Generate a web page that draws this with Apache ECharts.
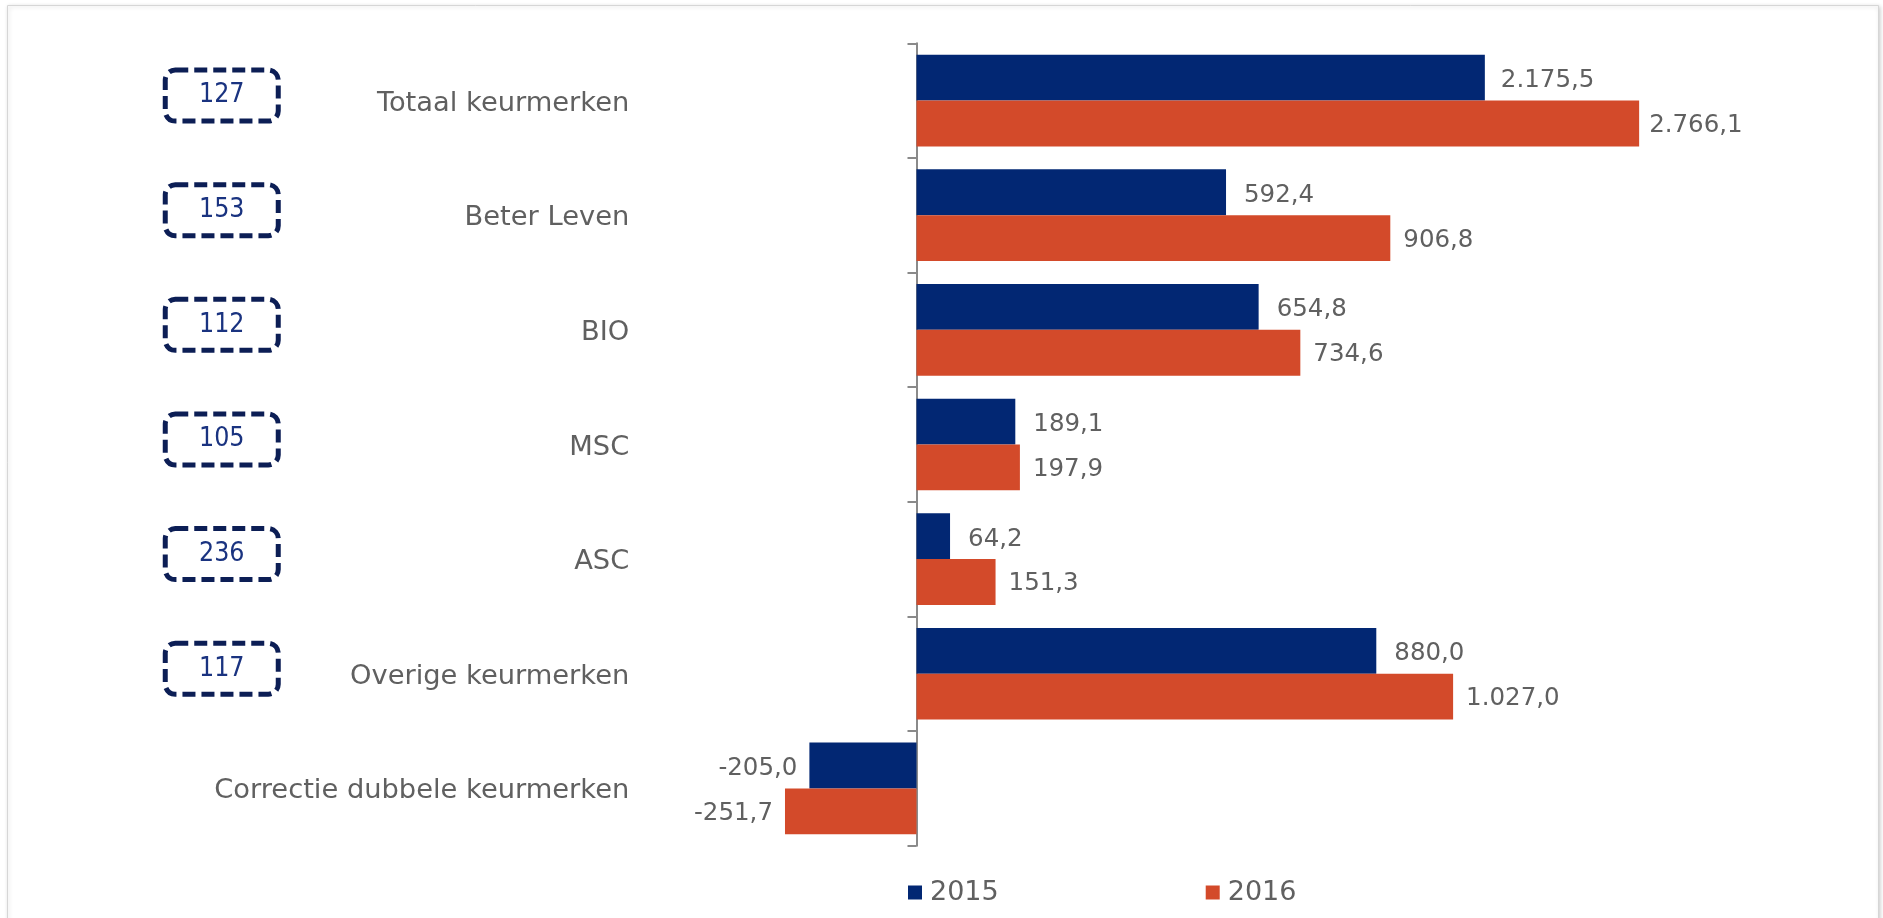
<!DOCTYPE html>
<html>
<head>
<meta charset="utf-8">
<script src="https://cdn.jsdelivr.net/npm/echarts@6/dist/echarts.min.js"></script>
<style>
  html, body { margin: 0; padding: 0; background: #ffffff; }
  #chart { width: 1883px; height: 918px; }
</style>
</head>
<body>
<div id="chart"></div>
<script>
// ---- data ----
const categories = ['Totaal keurmerken', 'Beter Leven', 'BIO', 'MSC', 'ASC', 'Overige keurmerken', 'Correctie dubbele keurmerken'];
const values2015 = [2175.5, 592.4, 654.8, 189.1, 64.2, 880.0, -205.0];
const values2016 = [2766.1, 906.8, 734.6, 197.9, 151.3, 1027.0, -251.7];
const boxValues = [127, 153, 112, 105, 236, 117, null];
const seriesNames = ['2015', '2016'];

// ---- style ----
const FONT = 'DejaVu Sans';
const BOX_FONT = "'DejaVu Sans Condensed', 'Liberation Sans', sans-serif";
const BLUE = '#022773';
const ORANGE = '#D34A2A';
const GRAY_TEXT = '#606060';
const AXIS_GRAY = '#8a8a8a';

function fmtNL(v) {
  const neg = v < 0;
  const s = Math.abs(v).toFixed(1);
  let [ip, dp] = s.split('.');
  ip = ip.replace(/\B(?=(\d{3})+(?!\d))/g, '.');
  return (neg ? '-' : '') + ip + ',' + dp;
}

function toItems(arr) {
  return arr.map(function (v) {
    return v < 0 ? { value: v, label: { position: 'left', distance: 12 } } : v;
  });
}

const chart = echarts.init(document.getElementById('chart'), null, { renderer: 'canvas' });

const axisLabelCfg = {
  interval: 0,
  margin: 26,
  padding: [6, 0, 0, 0],
  formatter: function (value) {
    const i = categories.indexOf(value);
    const b = boxValues[i];
    return (b == null ? '' : '{box|' + b + '}') + '{name|' + value + '}';
  },
  rich: {
    box: {
      width: 113, height: 51, align: 'center', verticalAlign: 'top',
      color: '#1a3380', fontSize: 26.5, fontFamily: BOX_FONT,
      borderColor: '#0c1e55', borderWidth: 5, borderType: [13, 6], borderRadius: 10
    },
    name: {
      width: 351, height: 67, align: 'right',
      color: GRAY_TEXT, fontSize: 27.3, fontFamily: FONT
    }
  }
};

function yAxisCfg(gridIndex, data) {
  return {
    type: 'category',
    gridIndex: gridIndex,
    data: data,
    inverse: true,
    axisLine: { show: true, onZero: true, lineStyle: { color: AXIS_GRAY, width: 2 } },
    axisTick: { show: true, interval: 0, length: 9, lineStyle: { color: AXIS_GRAY, width: 2 } },
    axisLabel: axisLabelCfg,
    splitLine: { show: false }
  };
}

function xAxisCfg(gridIndex, min, max) {
  return {
    type: 'value', gridIndex: gridIndex, min: min, max: max, show: false,
    splitLine: { show: false }
  };
}

function barSeries(name, color, axisIdx, data, dist, dy) {
  return {
    type: 'bar',
    name: name,
    xAxisIndex: axisIdx,
    yAxisIndex: axisIdx,
    data: toItems(data),
    barGap: '0%',
    barCategoryGap: '20%',
    itemStyle: { color: color },
    label: {
      show: true, position: 'right', distance: dist, offset: [0, dy],
      color: GRAY_TEXT, fontSize: 24.5, fontFamily: FONT,
      formatter: function (p) { return fmtNL(p.value); }
    }
  };
}

const option = {
  animation: false,
  backgroundColor: '#ffffff',
  textStyle: { fontFamily: FONT },
  graphic: [{
    type: 'rect', z: -10, silent: true,
    shape: { x: 7.5, y: 5.5, width: 1871, height: 940 },
    style: { fill: '#ffffff', stroke: '#d6d6d6', lineWidth: 1, shadowBlur: 4, shadowColor: 'rgba(0,0,0,0.18)', shadowOffsetX: 1, shadowOffsetY: 1 }
  }],
  grid: [
    { left: 655.25, right: 182.75, top: 43.3, height: 114.6, outerBoundsMode: 'none', containLabel: false },
    { left: 655.25, right: 182.75, top: 157.9, height: 687.8, outerBoundsMode: 'none', containLabel: false }
  ],
  xAxis: [xAxisCfg(0, -1000, 3000), xAxisCfg(1, -500, 1500)],
  yAxis: [yAxisCfg(0, categories.slice(0, 1)), yAxisCfg(1, categories.slice(1))],
  legend: {
    data: seriesNames,
    left: 903, top: 874,
    itemWidth: 14, itemHeight: 14, itemGap: 207,
    icon: 'rect',
    textStyle: { color: GRAY_TEXT, fontSize: 27, fontFamily: FONT, padding: [0, 0, 0, 3] }
  },
  series: [
    barSeries(seriesNames[0], BLUE, 0, values2015.slice(0, 1), 16, 3),
    barSeries(seriesNames[1], ORANGE, 0, values2016.slice(0, 1), 10, 2),
    barSeries(seriesNames[0], BLUE, 1, values2015.slice(1), 18, 3),
    barSeries(seriesNames[1], ORANGE, 1, values2016.slice(1), 13, 2)
  ]
};

chart.setOption(option);
</script>
</body>
</html>
